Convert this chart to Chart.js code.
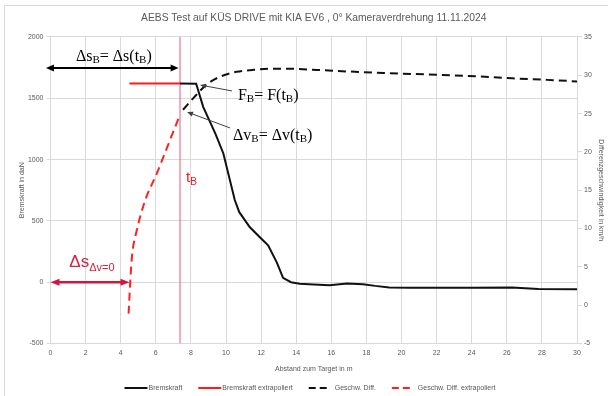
<!DOCTYPE html>
<html><head><meta charset="utf-8">
<script src="https://cdn.jsdelivr.net/npm/chart.js@4.4.1/dist/chart.umd.min.js"></script>
<style>
html,body{margin:0;padding:0;background:#fff;overflow:hidden;}
#wrap{position:relative;width:608px;height:396px;overflow:hidden;}
#frame{position:absolute;left:4px;top:5px;width:640px;height:420px;border-left:1px solid #d9d9d9;border-top:1px solid #d9d9d9;}
canvas{position:absolute;left:0;top:0;}
</style></head><body>
<div id="wrap"><div id="frame"></div><canvas id="c" width="608" height="396"></canvas></div>
<script>
// ---- texts ----
const titleText = 'AEBS Test auf KÜS DRIVE mit KIA EV6 , 0° Kameraverdrehung 11.11.2024';
const xTitle = 'Abstand zum Target in m';
const yLeftTitle = 'Bremskraft in daN';
const yRightTitle = 'Differenzgeschwindigkeit in km/h';
const seriesNames = ['Bremskraft', 'Bremskraft extrapoliert', 'Geschw. Diff.', 'Geschw. Diff. extrapoliert'];

// ---- axis ranges / ticks ----
const xRange = [0, 30];   const xStep = 2;
const yLeftRange = [-500, 2000]; const yLeftStep = 500;
const yRightRange = [-5, 35];   const yRightStep = 5;

// ---- series ----
const bremsX = [7.38, 8.3, 8.7, 9.4, 9.85, 10.5, 10.75, 11.35, 11.9, 12.4, 12.9, 13.25, 13.7, 14.2, 15.0, 15.9, 16.9, 17.8, 18.5, 19.3, 20.5, 22.2, 24.0, 26.3, 27.8, 30.0];
const bremsY = [1620, 1618, 1430, 1210, 1050, 670, 573, 450, 370, 300, 160, 35, 0, -12, -18, -24, -11, -16, -30, -43, -46, -46, -45, -43, -55, -57];

const bremsExtX = [4.5, 7.38];
const bremsExtY = [1620, 1620];

const diffX = [7.55, 8.25, 8.9, 9.65, 10.6, 11.5, 12.5, 13.5, 15.2, 16.9, 19.0, 22.2, 24.3, 26.3, 28.3, 30.0];
const diffY = [25.5, 27.3, 28.8, 29.8, 30.45, 30.7, 30.85, 30.85, 30.7, 30.5, 30.3, 30.05, 29.85, 29.6, 29.4, 29.2];

const diffExtX = [4.45, 4.55, 4.64, 4.92, 5.4, 6.06, 6.44, 7.3];
const diffExtY = [-1.1, 3.3, 6.3, 9.8, 13.7, 17.2, 19.4, 24.4];

const tBx = [7.38, 7.38];
const tBy = [-500, 2000];

// ---- styling ----
const FF = '"Liberation Sans", Arial, sans-serif';
const SERIF = '"Liberation Serif", "Times New Roman", serif';
const GREY = '#595959';
const GRID = '#d9d9d9';

const pts = (xs, ys) => xs.map((x, i) => ({x: x, y: ys[i]}));

function arrowHead(ctx, x1, y1, x2, y2, len, w) {
  const a = Math.atan2(y2 - y1, x2 - x1);
  const bx = x2 - len * Math.cos(a), by = y2 - len * Math.sin(a);
  ctx.beginPath();
  ctx.moveTo(x2, y2);
  ctx.lineTo(bx + w / 2 * Math.sin(a), by - w / 2 * Math.cos(a));
  ctx.lineTo(bx - w / 2 * Math.sin(a), by + w / 2 * Math.cos(a));
  ctx.closePath();
  ctx.fill();
}
function arrow(ctx, x1, y1, x2, y2, opt) {
  const a = Math.atan2(y2 - y1, x2 - x1);
  let sx = x1, sy = y1, ex = x2, ey = y2;
  if (opt.double) { sx += opt.len * 0.8 * Math.cos(a); sy += opt.len * 0.8 * Math.sin(a); }
  ex -= opt.len * 0.8 * Math.cos(a); ey -= opt.len * 0.8 * Math.sin(a);
  ctx.strokeStyle = opt.color; ctx.fillStyle = opt.color; ctx.lineWidth = opt.width;
  ctx.setLineDash([]);
  ctx.beginPath(); ctx.moveTo(sx, sy); ctx.lineTo(ex, ey); ctx.stroke();
  arrowHead(ctx, x1, y1, x2, y2, opt.len, opt.w);
  if (opt.double) arrowHead(ctx, x2, y2, x1, y1, opt.len, opt.w);
}
function richText(ctx, x, y, runs, family, color) {
  ctx.fillStyle = color; ctx.textBaseline = 'alphabetic'; ctx.textAlign = 'left';
  for (const r of runs) {
    ctx.font = r.size + 'px ' + family;
    ctx.fillText(r.t, x, y + (r.dy || 0));
    x += ctx.measureText(r.t).width;
  }
}

const annotations = {
  id: 'annotations',
  afterDatasetsDraw(chart) {
    const ctx = chart.ctx;
    const X = v => chart.scales.x.getPixelForValue(v);
    const Y = v => chart.scales.y.getPixelForValue(v);
    ctx.save();
    // Δs_B arrow + label
    arrow(ctx, X(-0.26), Y(1747), X(7.3), Y(1747), {double: true, color: '#000', width: 2, len: 8, w: 7});
    richText(ctx, X(1.45), Y(1804), [
      {t: 'Δs', size: 16}, {t: 'B', size: 11, dy: 2.5}, {t: '= Δs(t', size: 16}, {t: 'B', size: 11, dy: 2.5}, {t: ')', size: 16}
    ], SERIF, '#000');
    // F_B
    arrow(ctx, X(10.34), Y(1560), X(8.52), Y(1608), {color: '#404040', width: 1, len: 6, w: 5});
    richText(ctx, X(10.68), Y(1486), [
      {t: 'F', size: 16}, {t: 'B', size: 11, dy: 2.5}, {t: '= F(t', size: 16}, {t: 'B', size: 11, dy: 2.5}, {t: ')', size: 16}
    ], SERIF, '#000');
    // Δv_B
    arrow(ctx, X(10.23), Y(1258), X(7.78), Y(1388), {color: '#404040', width: 1, len: 6, w: 5});
    richText(ctx, X(10.4), Y(1160), [
      {t: 'Δv', size: 16}, {t: 'B', size: 11, dy: 2.5}, {t: '= Δv(t', size: 16}, {t: 'B', size: 11, dy: 2.5}, {t: ')', size: 16}
    ], SERIF, '#000');
    // t_B
    richText(ctx, X(7.72), Y(817), [{t: 't', size: 15}, {t: 'B', size: 10, dy: 2.5}], FF, '#e8202a');
    // Δs_{Δv=0}
    arrow(ctx, X(0), Y(0), X(4.5), Y(0), {double: true, color: '#d4163c', width: 2.5, len: 9, w: 7});
    richText(ctx, X(1.07), Y(126), [{t: 'Δs', size: 17}, {t: 'Δv=0', size: 11, dy: 4}], FF, '#d9203c');
    ctx.restore();
  }
};

const customLegend = {
  id: 'customLegend',
  afterDraw(chart) {
    const ctx = chart.ctx;
    const ds = chart.data.datasets.filter(d => !d.noLegend);
    ctx.save();
    ctx.font = '7px ' + FF;
    const widths = ds.map(d => (d.borderDash ? 18 + 8 : 23 + 1) + ctx.measureText(d.label).width);
    const gapI = 16;
    const total = widths.reduce((a, b) => a + b, 0) + gapI * (ds.length - 1);
    let x = 310 - total / 2;
    const y = 388;
    ds.forEach((d, i) => {
      const sw = d.borderDash ? 18 : 23;
      const gt = d.borderDash ? 8 : 1;
      ctx.strokeStyle = d.borderColor; ctx.lineWidth = d.borderWidth;
      ctx.setLineDash(d.borderDash ? [7, 4] : []);
      ctx.beginPath(); ctx.moveTo(x, y); ctx.lineTo(x + sw, y); ctx.stroke();
      ctx.setLineDash([]);
      ctx.fillStyle = GREY; ctx.textBaseline = 'middle'; ctx.textAlign = 'left';
      ctx.fillText(d.label, x + sw + gt, y);
      x += widths[i] + gapI;
    });
    ctx.restore();
  }
};

const tickFont = {family: FF, size: 7};
const axTitleFont = {family: FF, size: 7};
const plain = v => String(v);

new Chart(document.getElementById('c'), {
  type: 'line',
  data: {
    datasets: [
      {label: seriesNames[0], data: pts(bremsX, bremsY), yAxisID: 'y', borderColor: '#111111', borderWidth: 2, pointRadius: 0, tension: 0},
      {label: seriesNames[1], data: pts(bremsExtX, bremsExtY), yAxisID: 'y', borderColor: '#ff1a1a', borderWidth: 2, pointRadius: 0},
      {label: seriesNames[2], data: pts(diffX, diffY), yAxisID: 'y1', borderColor: '#111111', borderWidth: 2, borderDash: [8, 5], pointRadius: 0, cubicInterpolationMode: 'monotone'},
      {label: seriesNames[3], data: pts(diffExtX, diffExtY), yAxisID: 'y1', borderColor: '#ff2020', borderWidth: 2, borderDash: [8, 5], pointRadius: 0, cubicInterpolationMode: 'monotone'},
      {label: 'tB', noLegend: true, data: pts(tBx, tBy), yAxisID: 'y', borderColor: '#e8587c', borderWidth: 1, pointRadius: 0}
    ]
  },
  options: {
    responsive: false,
    animation: false,
    devicePixelRatio: 1,
    layout: {padding: 0},
    plugins: {
      legend: {display: false},
      tooltip: {enabled: false},
      title: {display: true, fullSize: false, text: titleText, color: GREY,
        font: {family: FF, size: 10.3, weight: 'normal'},
        padding: {top: 11.8, bottom: 12.8}}
    },
    scales: {
      x: {type: 'linear', min: xRange[0], max: xRange[1],
        ticks: {stepSize: xStep, font: tickFont, color: GREY, padding: 5, maxRotation: 0, callback: plain},
        grid: {color: GRID, drawTicks: false},
        border: {color: GRID},
        title: {display: true, text: xTitle, font: axTitleFont, color: GREY, padding: {top: 0, bottom: 22.8}},
        afterFit: s => { s.height = 52.5; }
      },
      y: {position: 'left', min: yLeftRange[0], max: yLeftRange[1],
        ticks: {stepSize: yLeftStep, font: tickFont, color: GREY, padding: 3, callback: plain},
        grid: {color: GRID, tickColor: GRID, tickLength: 4},
        border: {display: false},
        title: {display: true, text: yLeftTitle, font: axTitleFont, color: GREY, padding: {top: 17.8, bottom: 0}},
        afterFit: s => { s.width = 50.5; }
      },
      y1: {position: 'right', min: yRightRange[0], max: yRightRange[1],
        ticks: {stepSize: yRightStep, font: tickFont, color: GREY, padding: 2, callback: plain},
        grid: {drawOnChartArea: false, color: GRID, tickLength: 5},
        border: {display: false},
        title: {display: true, text: yRightTitle, font: axTitleFont, color: GREY, padding: {top: 2.8, bottom: 0}},
        afterFit: s => { s.width = 31; }
      }
    }
  },
  plugins: [annotations, customLegend]
});
</script>
</body></html>
